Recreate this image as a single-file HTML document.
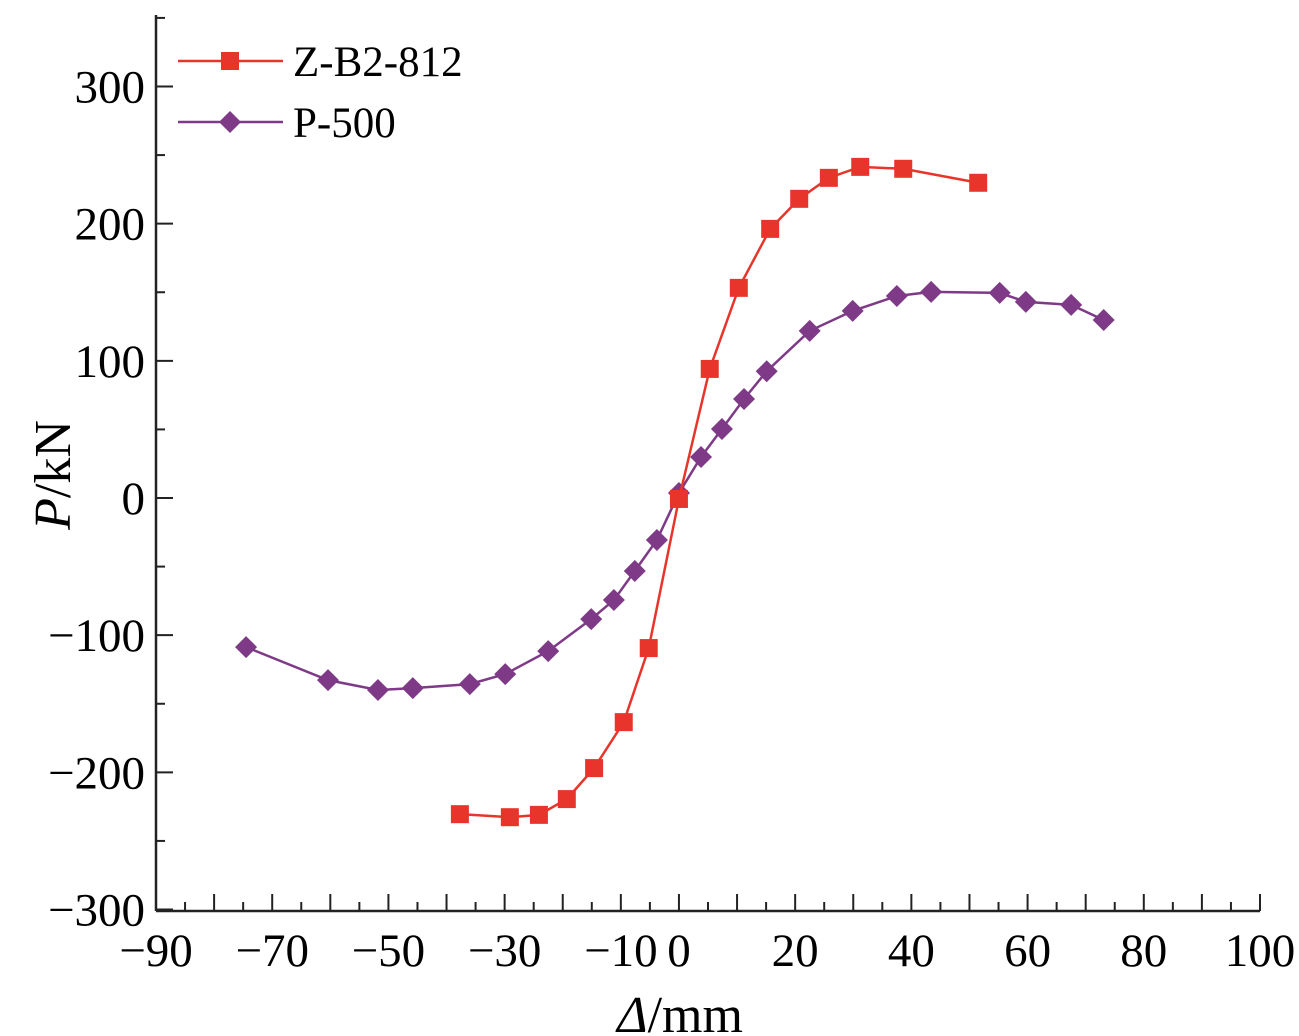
<!DOCTYPE html>
<html><head><meta charset="utf-8"><style>
html,body{margin:0;padding:0;background:#fff;}
svg{display:block;font-family:"Liberation Serif",serif;}
</style></head><body>
<svg id="chart" width="1299" height="1036" viewBox="0 0 1299 1036" xmlns="http://www.w3.org/2000/svg">
<g id="axes"></g><g id="series"></g><g id="legend"></g>
</svg>
<script>
const xTickLabels=[-90,-70,-50,-30,-10,0,20,40,60,80,100];
const yTickLabels=[-300,-200,-100,0,100,200,300];
const redX=[-37.7,-29.1,-24.1,-19.3,-14.6,-9.5,-5.2,0,5.3,10.3,15.7,20.7,25.8,31.2,38.6,51.5];
const redY=[-230.5,-232.7,-231,-219.5,-196.9,-163.4,-109.4,-0.7,94.1,153.2,196.2,218.1,233.4,241.4,240,229.8];
const purX=[-74.5,-60.4,-51.8,-45.8,-36.0,-29.9,-22.5,-15.1,-11.2,-7.6,-3.8,0,3.8,7.4,11.2,15.1,22.5,29.9,37.5,43.4,55.2,59.7,67.5,73.1];
const purY=[-108.7,-132.8,-140,-138.6,-135.7,-128.4,-111.6,-88.3,-74.4,-53.2,-30.6,3.6,29.9,50.3,72.2,92.4,121.8,136.4,147.3,150.3,149.5,143,140.8,129.8];
const NS="http://www.w3.org/2000/svg";
const X0=156,X1=1260,Y0=911,YT=15;
function sx(v){return X0+(v+90)*(X1-X0)/190;}
function sy(v){return 498-v*1.3717;}
function mk(t,a,p){const e=document.createElementNS(NS,t);for(const k in a)e.setAttribute(k,a[k]);(p||document.getElementById('axes')).appendChild(e);return e;}
let e=mk('line',{x1:X0,y1:Y0,x2:X1,y2:Y0,stroke:'#222','stroke-width':2.5});


e=mk('line',{x1:X0,y1:Y0,x2:X0,y2:YT,stroke:'#222','stroke-width':2.5});


for(let v=-90;v<=100;v+=5){const L=(v%10===0)?17:9;mk('line',{x1:sx(v),y1:Y0,x2:sx(v),y2:Y0-L,stroke:'#222','stroke-width':2});}
for(let v=-300;v<=350;v+=50){const L=(v%100===0)?17:9;mk('line',{x1:X0,y1:sy(v),x2:X0+L,y2:sy(v),stroke:'#222','stroke-width':2});}
xTickLabels.forEach(v=>{const t=mk('text',{x:sx(v),y:966,'text-anchor':'middle','font-size':47});t.textContent=(v<0?'\u2212'+(-v):v);

});
yTickLabels.forEach(v=>{const t=mk('text',{x:145,y:sy(v)+16,'text-anchor':'end','font-size':47});t.textContent=(v<0?'\u2212'+(-v):v);

});
let t=mk('text',{x:680,y:1032,'text-anchor':'middle','font-size':52});t.innerHTML='<tspan font-style="italic">Δ</tspan>/mm';


t=mk('text',{x:0,y:0,'text-anchor':'middle','font-size':52,transform:'translate(70,475) rotate(-90)'});t.innerHTML='<tspan font-style="italic">P</tspan>/kN';


const sg=document.getElementById('series');
function series(xs,ys,col,shape,name){
 const g=mk('g',{},sg);
 
 
 mk('polyline',{points:xs.map((x,i)=>sx(x)+','+sy(ys[i])).join(' '),fill:'none',stroke:col,'stroke-width':2.5},g);
 xs.forEach((x,i)=>marker(sx(x),sy(ys[i]),col,shape,g));
}
function marker(cx,cy,col,shape,g){
 let m;
 if(shape==='sq')m=mk('rect',{x:cx-9,y:cy-9,width:18,height:18,fill:col},g);
 else m=mk('polygon',{points:`${cx},${cy-11} ${cx+11},${cy} ${cx},${cy+11} ${cx-11},${cy}`,fill:col},g);
 
 
}
series(purX,purY,'#7e3a87','di','series-p-500');
series(redX,redY,'#e8352c','sq','series-z-b2-812');
const lg=document.getElementById('legend');
const l1=mk('g',{},lg);


mk('line',{x1:178,y1:61,x2:283,y2:61,stroke:'#e8352c','stroke-width':2.5},l1);marker(230,61,'#e8352c','sq',l1);
t=mk('text',{x:293,y:76,'font-size':43},l1);t.textContent='Z-B2-812';
const l2=mk('g',{},lg);


mk('line',{x1:178,y1:122,x2:283,y2:122,stroke:'#7e3a87','stroke-width':2.5},l2);marker(230,122,'#7e3a87','di',l2);
t=mk('text',{x:293,y:137,'font-size':43},l2);t.textContent='P-500';
</script>
</body></html>
